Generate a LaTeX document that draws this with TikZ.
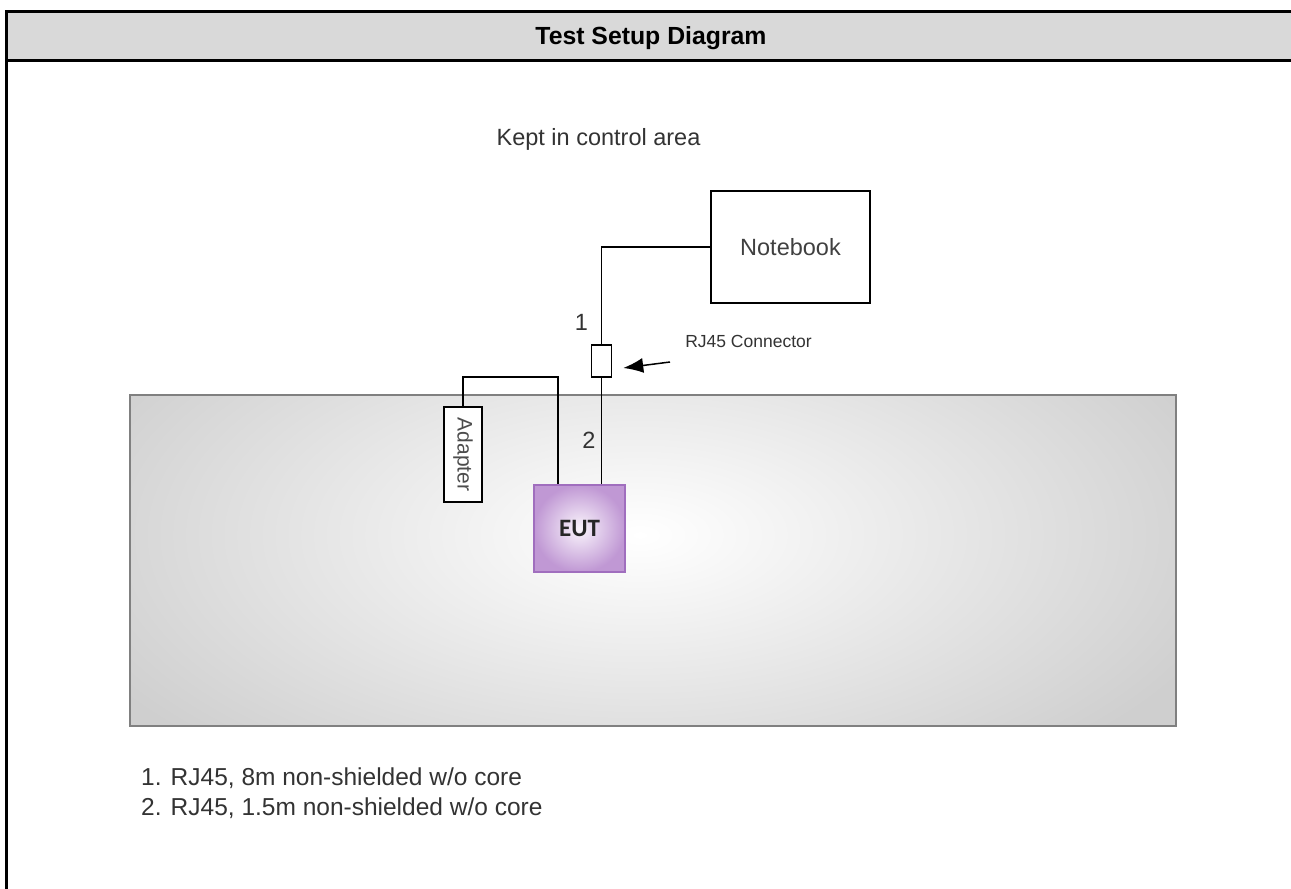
\documentclass[tikz,border=0pt]{standalone}
\usepackage{fontspec}
\setmainfont{Liberation Sans}
\newfontfamily\eutfont{Carlito}
\usetikzlibrary{arrows.meta,calc}
\definecolor{eutborder}{RGB}{160,110,190}
\definecolor{eutouter}{RGB}{192,152,212}
\definecolor{eutinner}{RGB}{250,245,252}
\begin{document}
\begin{tikzpicture}[x=1pt,y=-1pt,
  txt/.style={inner sep=0pt, font=\fontsize{23.5}{28}\selectfont, text=black!80},
  box/.style={draw=black, line width=1.5pt, fill=white, inner sep=0pt},
  wire/.style={draw=black, line width=1.5pt}]
\useasboundingbox (0,0) rectangle (1291,889);
\fill[white] (0,0) rectangle (1291,889);
% header band and frame
\fill[black!15] (6.5,11.5) rectangle (1291,60.5);
\draw[line width=3pt, line join=miter] (6.5,889) -- (6.5,11.5) -- (1291,11.5);
\draw[line width=3pt] (5,60.5) -- (1291,60.5);
\node[inner sep=0pt, anchor=base, font=\bfseries\fontsize{24.8}{28}\selectfont] (title) at (651,44) {Test Setup Diagram};
% table
\begin{scope}
\clip (130,395) rectangle (1176,726);
\fill[black!19] (130,395) rectangle (1176,726);
\shade[inner color=white, outer color=black!19] (640,535) ellipse [x radius=620, y radius=300];
\end{scope}
\node[draw=black!50, line width=2.5pt, minimum width=1046pt, minimum height=331pt, inner sep=0pt] (tbl) at (653,560.5) {};
% boxes
\node[box, minimum width=159pt, minimum height=112pt, font=\fontsize{23.5}{28}\selectfont, text=black!75] (nb) at (790.5,247) {Notebook};
\node[box, minimum width=20pt, minimum height=32pt] (conn) at (601.5,361) {};
\node[box, rotate=-90, minimum width=95pt, minimum height=38pt, font=\fontsize{21}{24}\selectfont, text=black!70] (ad) at (463,454.5) {Adapter};
\node[draw=eutborder, line width=2pt, shading=radial, inner color=eutinner, outer color=eutouter, minimum width=91pt, minimum height=87pt, inner sep=0pt, font=\eutfont\bfseries\fontsize{25}{28}\selectfont, text=black!85] (eut) at (579.5,528.5) {EUT};
% wires
\coordinate (bend) at (558,377);
\draw[wire] (conn.north) |- (nb.west);
\draw[wire] (conn.south) -- (conn.south |- eut.north);
\draw[wire] (ad.west) |- (bend) -- (bend |- eut.north);
% arrow
\coordinate (arrstart) at (670,362);
\draw[line width=1.5pt, -{Latex[length=20pt,width=15pt]}] (arrstart) -- ($(conn.east)+(11,7)$);
% labels
\node[txt, anchor=base] (kept) at (598.5,145) {Kept in control area};
\node[txt, anchor=base] (n1) at (581.5,330) {1};
\node[txt, anchor=base] (n2) at (589,448) {2};
\node[inner sep=0pt, anchor=base, font=\fontsize{17.5}{20}\selectfont, text=black!80] (rjl) at (748.5,347) {RJ45 Connector};
\node[txt, anchor=base west, font=\fontsize{24.5}{28}\selectfont] (l1) at (141,785) {1. RJ45, 8m non-shielded w/o core};
\node[txt, anchor=base west, font=\fontsize{24.5}{28}\selectfont] (l2) at (141,815) {2. RJ45, 1.5m non-shielded w/o core};
\end{tikzpicture}
\end{document}
